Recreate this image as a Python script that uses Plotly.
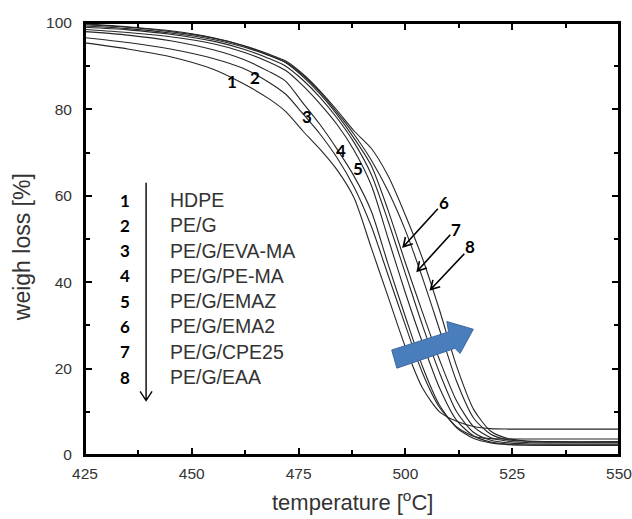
import numpy as np
import plotly.graph_objects as go

# ---------------- data ----------------
temperature = [425, 435, 445, 455, 462, 468, 472, 476, 480, 484, 488, 492, 496,
               500, 504, 508, 512, 516, 520, 524, 528, 535, 550]

w1 = [95.4, 94.0, 92.2, 89.3, 86.0, 82.5, 79.5, 75.0, 70.8, 66.0, 59.5, 48.0, 36.5,
      25.0, 15.5, 10.0, 7.8, 6.6, 6.1, 6.0, 6.0, 6.0, 6.0]
w2 = [96.6, 95.5, 94.0, 91.8, 89.5, 86.3, 83.5, 79.0, 74.3, 68.8, 62.0, 53.0, 41.5,
      30.0, 19.0, 11.0, 6.5, 4.3, 3.8, 3.7, 3.7, 3.7, 3.7]
w3 = [98.0, 97.2, 95.9, 93.8, 91.6, 88.8, 86.5, 81.5, 76.5, 70.8, 64.5, 56.5, 44.0,
      32.0, 20.5, 11.5, 6.3, 3.8, 2.8, 2.4, 2.3, 2.3, 2.3]
w4 = [98.5, 97.8, 96.8, 95.2, 93.3, 91.0, 89.0, 85.5, 81.3, 76.5, 70.5, 62.5, 50.0,
      37.5, 26.0, 15.5, 8.0, 4.4, 3.0, 2.5, 2.3, 2.2, 2.2]
w5 = [99.0, 98.4, 97.4, 95.8, 94.0, 91.8, 90.0, 86.8, 82.8, 78.0, 72.3, 65.0, 54.0,
      42.0, 30.0, 19.0, 10.0, 5.2, 3.4, 2.8, 2.6, 2.5, 2.5]
w6 = [99.8, 99.1, 98.2, 96.6, 94.8, 92.6, 90.8, 87.6, 83.6, 78.8, 73.3, 67.0, 56.5,
      44.5, 33.0, 22.0, 12.5, 6.5, 4.0, 3.2, 2.9, 2.8, 2.8]
w7 = [99.3, 98.7, 97.7, 96.2, 94.5, 92.5, 90.9, 87.9, 84.0, 79.3, 74.2, 68.3, 61.0,
      52.0, 41.0, 29.0, 17.0, 8.5, 4.8, 3.5, 3.2, 3.0, 3.0]
w8 = [99.6, 99.0, 98.0, 96.5, 94.8, 92.8, 91.2, 88.2, 84.3, 79.8, 75.0, 71.0, 64.5,
      55.5, 45.5, 33.5, 20.5, 10.5, 5.5, 3.8, 3.3, 3.1, 3.1]
series = [w1, w2, w3, w4, w5, w6, w7, w8]

sample_ids = ["1", "2", "3", "4", "5", "6", "7", "8"]
sample_names = ["HDPE", "PE/G", "PE/G/EVA-MA", "PE/G/PE-MA", "PE/G/EMAZ",
                "PE/G/EMA2", "PE/G/CPE25", "PE/G/EAA"]

x_ticks = [425, 450, 475, 500, 525, 550]
y_ticks = [0, 20, 40, 60, 80, 100]

# curve label positions (temperature, weight)
label_pos = {"1": (459.4, 86.4), "2": (464.8, 87.4), "3": (476.9, 78.4),
             "4": (484.9, 70.5), "5": (489.0, 66.3),
             "6": (509.0, 58.4), "7": (511.9, 52.3), "8": (515.2, 48.3)}
# pointer arrows for curves 6-8: (tail, head)
pointer_arrows = [((507.6, 57.0), (499.5, 48.2)),
                  ((510.5, 51.0), (502.8, 42.6)),
                  ((513.8, 46.6), (505.9, 38.3))]
# blue block arrow outline
blue_arrow = [(496.8, 24.3), (510.1, 28.5), (509.7, 30.9), (515.9, 29.1),
              (512.8, 23.5), (511.6, 24.7), (498.0, 20.1)]

# legend layout (data coords)
leg_x_num, leg_x_name = 434.4, 444.4
leg_y_top, leg_y_step = 59.0, 5.85
leg_arrow = ((439.3, 63.0), (439.3, 12.6))

X_RANGE = [425, 550]
Y_RANGE = [0, 100]
W, H = 632, 519
M = dict(l=85, r=13, t=23, b=64)
px_x = (W - M["l"] - M["r"]) / (X_RANGE[1] - X_RANGE[0])
px_y = (H - M["t"] - M["b"]) / (Y_RANGE[1] - Y_RANGE[0])

fig = go.Figure()
for w in series:
    fig.add_trace(go.Scatter(x=temperature, y=w, mode="lines",
                             line=dict(color="#262626", width=1.1, shape="spline", smoothing=0.7),
                             showlegend=False, hoverinfo="skip"))

TXT = "#333333"
shapes = []
annotations = []


def chevron(tail, head, size=9, ang=32):
    dx = (head[0] - tail[0]) * px_x
    dy = (head[1] - tail[1]) * px_y
    L = np.hypot(dx, dy)
    bx, by = -dx / L, -dy / L
    pts = []
    for s in (1, -1):
        a = np.radians(ang) * s
        rx = bx * np.cos(a) - by * np.sin(a)
        ry = bx * np.sin(a) + by * np.cos(a)
        pts.append((head[0] + rx * size / px_x, head[1] + ry * size / px_y))
    return (f"M {tail[0]},{tail[1]} L {head[0]},{head[1]} "
            f"M {pts[0][0]},{pts[0][1]} L {head[0]},{head[1]} L {pts[1][0]},{pts[1][1]}")


for tail, head in pointer_arrows:
    shapes.append(dict(type="path", path=chevron(tail, head, 10, 30), xref="x", yref="y",
                       line=dict(color="black", width=1.6)))

shapes.append(dict(type="path", path=chevron(leg_arrow[0], leg_arrow[1], 11, 33),
                   xref="x", yref="y", line=dict(color="black", width=1.4)))

path = "M " + " L ".join(f"{x},{y}" for x, y in blue_arrow) + " Z"
shapes.append(dict(type="path", path=path, xref="x", yref="y",
                   fillcolor="#4a7dbb", line=dict(color="#3a68a0", width=1)))

# plot frame
shapes.append(dict(type="rect", xref="paper", yref="paper", x0=0, y0=0, x1=1, y1=1,
                   line=dict(color="black", width=2), layer="above"))

for k, (x, y) in label_pos.items():
    annotations.append(dict(x=x, y=y, xref="x", yref="y", text=f"<b>{k}</b>",
                            showarrow=False, font=dict(family="Lato", size=17, color="black")))

for i, (sid, name) in enumerate(zip(sample_ids, sample_names)):
    yy = leg_y_top - i * leg_y_step
    annotations.append(dict(x=leg_x_num, y=yy, xref="x", yref="y", text=f"<b>{sid}</b>",
                            showarrow=False, font=dict(family="Lato", size=17, color="black")))
    annotations.append(dict(x=leg_x_name, y=yy, xref="x", yref="y", text=name,
                            xanchor="left", showarrow=False,
                            font=dict(family="Liberation Sans", size=19.5, color=TXT)))

annotations.append(dict(x=-0.118, y=0.481, xref="paper", yref="paper",
                        xanchor="center", yanchor="middle",
                        text="weigh loss [%]", textangle=-90, showarrow=False,
                        font=dict(family="Liberation Sans", size=23, color=TXT)))
annotations.append(dict(x=0.5, y=-0.142, xref="paper", yref="paper",
                        xanchor="center", yanchor="bottom", borderpad=0,
                        text="temperature [<sup>o</sup>C]", showarrow=False,
                        font=dict(family="Liberation Sans", size=22, color=TXT)))

axis_common = dict(showline=True, linecolor="black", linewidth=2, mirror="allticks",
                   ticks="inside", ticklen=7, tickwidth=2, tickcolor="black",
                   showgrid=False, zeroline=False, automargin=False,
                   ticklabeloverflow="allow",
                   tickfont=dict(family="Liberation Sans", size=15.5, color=TXT))

fig.update_layout(
    width=W, height=H, margin=M, autosize=False,
    paper_bgcolor="white", plot_bgcolor="white",
    xaxis=dict(range=X_RANGE, tickvals=x_ticks, ticklabelstandoff=3,
               minor=dict(ticks="inside", ticklen=5, tickwidth=2, tickcolor="black", dtick=12.5,
                          tick0=425, showgrid=False),
               **axis_common),
    yaxis=dict(range=Y_RANGE, tickvals=y_ticks, ticklabelstandoff=8,
               minor=dict(ticks="inside", ticklen=5, tickwidth=2, tickcolor="black", dtick=10,
                          tick0=0, showgrid=False),
               **axis_common),
    shapes=shapes, annotations=annotations,
)

fig.write_html("out.html")
